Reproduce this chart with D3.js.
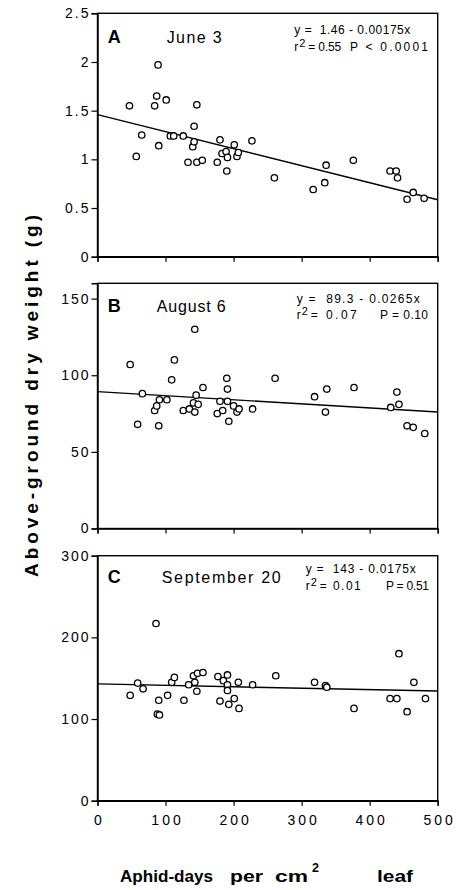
<!DOCTYPE html>
<html><head><meta charset="utf-8">
<script src="https://cdn.jsdelivr.net/npm/d3@7"></script>
<style>
body{margin:0;background:#fff}
text{font-family:"Liberation Sans",Arial,Helvetica,sans-serif;fill:#000}
</style>
</head><body>
<svg id="chart" width="456" height="890"></svg>
<script>
// Aphid-days per cm² leaf (x) vs above-ground dry weight (y), three sampling dates
const xTicks = [0, 100, 200, 300, 400, 500];

const juneX = [47,57,65,84,87,89,90,101,107,112,126,133,140,142,142,146,146,154,176,180,183,189,190,191,201,205,207,227,260,317,334,336,376,430,439,441,455,464,480];
const juneY = [1.55,1.03,1.25,1.55,1.65,1.97,1.14,1.61,1.24,1.24,1.24,0.97,1.13,1.18,1.34,1.56,0.97,0.99,0.97,1.20,1.06,1.08,0.88,1.02,1.15,1.03,1.07,1.19,0.81,0.69,0.76,0.94,0.99,0.88,0.88,0.81,0.59,0.66,0.60];

const augX = [48,59,66,84,87,90,91,102,109,113,126,135,143,141,143,145,148,155,176,180,184,190,191,191,193,200,205,208,228,261,319,335,337,377,431,440,443,455,464,481];
const augY = [107,68,88,77,80,67,84,84,97,110,77,78,130,82,76,87,81,92,75,83,77,98,91,83,70,80,76,78,78,98,86,76,91,92,79,89,81,67,66,62];

const sepX = [48,59,67,86,88,91,90,103,109,113,127,134,141,143,146,147,155,177,180,185,191,191,191,193,201,207,208,228,262,319,335,337,377,430,440,443,455,465,482];
const sepY = [129,144,137,217,106,105,123,129,145,151,123,142,153,145,134,156,157,152,122,147,154,142,135,118,125,145,113,142,153,145,141,139,113,125,125,180,109,145,125];

const panelLetters = ["A", "B", "C"];
const panelDates = ["June 3", "August 6", "September 20"];
const yDomains = [[0, 2.5], [0, 160], [0, 300]];
const yTickValues = [[0, 0.5, 1, 1.5, 2, 2.5], [0, 50, 100, 150], [0, 100, 200, 300]];
const intercepts = [1.46, 89.3, 143];
const slopes = [-0.00175, -0.0265, -0.0175];
const equationLabels = ["y =  1.46 - 0.00175x", "y =  89.3 - 0.0265x", "y =  143 - 0.0175x"];
const r2Values = ["0.55", "0.07", "0.01"];
const pLabels = ["P < 0.0001", "P = 0.10", "P = 0.51"];

const xTitleWords = ["Aphid-days", "per", "cm", "2", "leaf"];
const yTitle = "Above-ground dry weight (g)";

const panelData = [
  {x: juneX, y: juneY},
  {x: augX, y: augY},
  {x: sepX, y: sepY}
];

// Layout
const left = 97.5, right = 437.7;
const panelBoxes = [
  {top: 13.3, bottom: 256.7},
  {top: 283.3, bottom: 528.5},
  {top: 555.7, bottom: 800.7}
];
const annot = [
  {letterDy: 30, dateX: 166.7, dateW: 55, eqX: 294.3, eqDy: 21, eqW: 116, r2Dy: 38, r2W: 33, pX: 350, pW: 78},
  {letterDy: 28.4, dateX: 156.7, dateW: 69, eqX: 296.7, eqDy: 20, eqW: 123, r2Dy: 36, r2W: 46, pX: 380, pW: 48},
  {letterDy: 27.6, dateX: 161.7, dateW: 119, eqX: 305.7, eqDy: 17, eqW: 110, r2Dy: 34.6, r2W: 41, pX: 386, pW: 43}
];
const xTitleSlots = [
  {x: 120, w: 93, size: 17, dy: 0},
  {x: 230, w: 33, size: 17, dy: 0},
  {x: 275, w: 33, size: 17, dy: 0},
  {x: 312, w: 7, size: 12, dy: -10},
  {x: 377, w: 36, size: 17, dy: 0}
];

const svg = d3.select("#chart");
const x = d3.scaleLinear().domain([0, 500]).range([left, right]);

panelData.forEach((d, i) => {
  const box = panelBoxes[i];
  const a = annot[i];
  const y = d3.scaleLinear().domain(yDomains[i]).range([box.bottom, box.top]);
  const g = svg.append("g");

  // frame
  g.append("rect")
    .attr("x", left).attr("y", box.top)
    .attr("width", right - left).attr("height", box.bottom - box.top)
    .attr("fill", "none").attr("stroke", "#000").attr("stroke-width", 1.4);

  // y axis
  const ya = g.append("g").attr("transform", `translate(${left},0)`)
    .call(d3.axisLeft(y).tickValues(yTickValues[i]).tickSize(6).tickPadding(3).tickFormat(v => String(v)));
  ya.select(".domain").attr("stroke-width", 1.4);
  ya.selectAll(".tick line").attr("stroke-width", 1.2);
  ya.selectAll("text").attr("font-size", 14).attr("letter-spacing", 2).attr("dx", 2)
    .style("font-family", '"Liberation Sans",Arial,sans-serif');

  // x axis
  const xa = g.append("g").attr("transform", `translate(0,${box.bottom})`)
    .call(d3.axisBottom(x).tickValues(xTicks).tickSize(5).tickFormat(i === 2 ? (v => String(v)) : () => ""));
  xa.select(".domain").attr("stroke-width", 1.4);
  xa.selectAll(".tick line").attr("stroke-width", 1.2);
  xa.selectAll("text").attr("font-size", 14).attr("letter-spacing", 3).attr("dx", 1.5).attr("dy", "1.2em")
    .style("font-family", '"Liberation Sans",Arial,sans-serif');

  // regression line
  g.append("line")
    .attr("x1", x(0)).attr("y1", y(intercepts[i]))
    .attr("x2", x(500)).attr("y2", y(intercepts[i] + slopes[i] * 500))
    .attr("stroke", "#000").attr("stroke-width", 1.4);

  // points
  g.selectAll("circle.pt").data(d.x.map((v, k) => [v, d.y[k]])).join("circle")
    .attr("class", "pt")
    .attr("cx", p => x(p[0])).attr("cy", p => y(p[1])).attr("r", 3.2)
    .attr("fill", "#fff").attr("stroke", "#000").attr("stroke-width", 1.3);

  // annotations
  g.append("text").attr("x", 107.7).attr("y", box.top + a.letterDy)
    .attr("font-size", 18).attr("font-weight", "bold").text(panelLetters[i]);
  g.append("text").attr("x", a.dateX).attr("y", box.top + a.letterDy)
    .attr("font-size", 16).attr("textLength", a.dateW).attr("lengthAdjust", "spacing")
    .text(panelDates[i]);
  g.append("text").attr("x", a.eqX).attr("y", box.top + a.eqDy)
    .attr("font-size", 12).attr("textLength", a.eqW).attr("lengthAdjust", "spacing")
    .style("white-space", "pre").text(equationLabels[i]);
  const r2 = g.append("text").attr("x", a.eqX).attr("y", box.top + a.r2Dy).attr("font-size", 12);
  r2.append("tspan").text("r");
  r2.append("tspan").attr("dy", -4).attr("dx", 1).attr("font-size", 11).text("2");
  g.append("text").attr("x", a.eqX + 14).attr("y", box.top + a.r2Dy)
    .attr("font-size", 12).attr("textLength", a.r2W).attr("lengthAdjust", "spacing")
    .text("= " + r2Values[i]);
  g.append("text").attr("x", a.pX).attr("y", box.top + a.r2Dy)
    .attr("font-size", 12).attr("textLength", a.pW).attr("lengthAdjust", "spacing")
    .style("white-space", "pre").text(pLabels[i]);
});

// x axis title, word by word
svg.append("g").selectAll("text").data(xTitleWords).join("text")
  .attr("x", (w, k) => xTitleSlots[k].x)
  .attr("y", (w, k) => 882 + xTitleSlots[k].dy)
  .attr("font-size", (w, k) => xTitleSlots[k].size)
  .attr("font-weight", "bold")
  .attr("textLength", (w, k) => xTitleSlots[k].w)
  .attr("lengthAdjust", "spacingAndGlyphs")
  .text(w => w);

// y axis title
svg.append("text")
  .attr("transform", "translate(38,577) rotate(-90)")
  .attr("font-size", 19).attr("font-weight", "bold")
  .attr("textLength", 362).attr("lengthAdjust", "spacing")
  .text(yTitle);
</script>
</body></html>
